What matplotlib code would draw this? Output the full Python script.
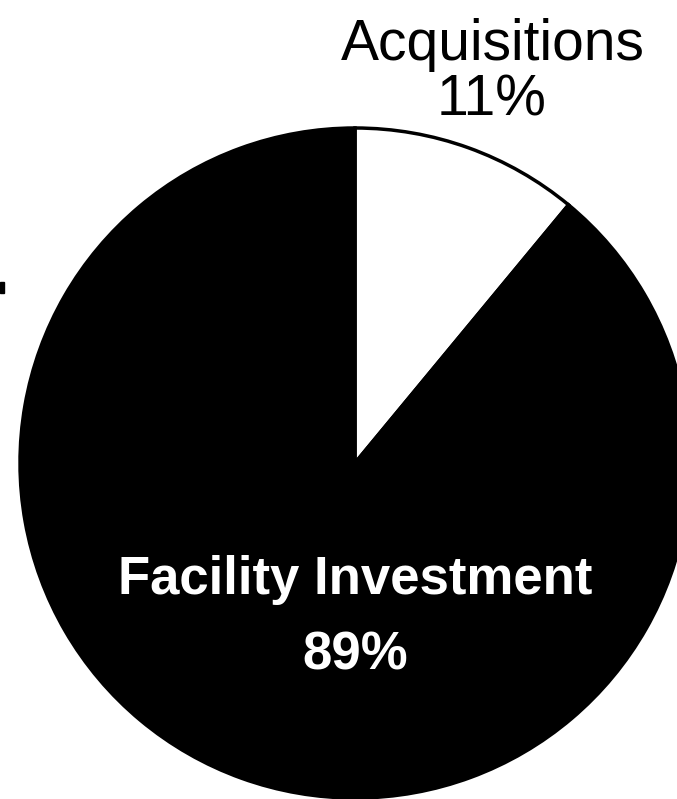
import matplotlib.pyplot as plt
from matplotlib.patches import Rectangle

plt.rcParams['font.family'] = ['Liberation Sans', 'DejaVu Sans']

categories = ['Acquisitions', 'Facility Investment']
shares = [11, 89]
colors = ['white', 'black']

W, H = 677, 799
fig = plt.figure(figsize=(W / 100, H / 100), dpi=100)
ax = fig.add_axes([0, 0, 1, 1])

cx, cy, r = 355, H - 463, 335
ax.pie(shares, colors=colors, startangle=90, counterclock=False,
       center=(cx, cy), radius=r, frame=True,
       wedgeprops=dict(edgecolor='black', linewidth=2.5))
ax.set_xlim(0, W)
ax.set_ylim(0, H)
ax.set_aspect('equal')
ax.axis('off')

# outside label for the small slice
ax.text(493, H - 45, categories[0], ha='center', va='center',
        fontsize=41, color='black')
ax.text(492, H - 100, f'{shares[0]}%', ha='center', va='center',
        fontsize=41, color='black')

# label inside the big slice
ax.text(355, H - 580, categories[1], ha='center', va='center',
        fontsize=38, fontweight='bold', color='white')
ax.text(355, H - 655, f'{shares[1]}%', ha='center', va='center',
        fontsize=38, fontweight='bold', color='white')

# small tick mark at left edge
fig.add_artist(Rectangle((0, 1 - 293 / H), 4 / W, 11 / H,
                         transform=fig.transFigure, color='black'))

fig.savefig('out.png', dpi=100)
